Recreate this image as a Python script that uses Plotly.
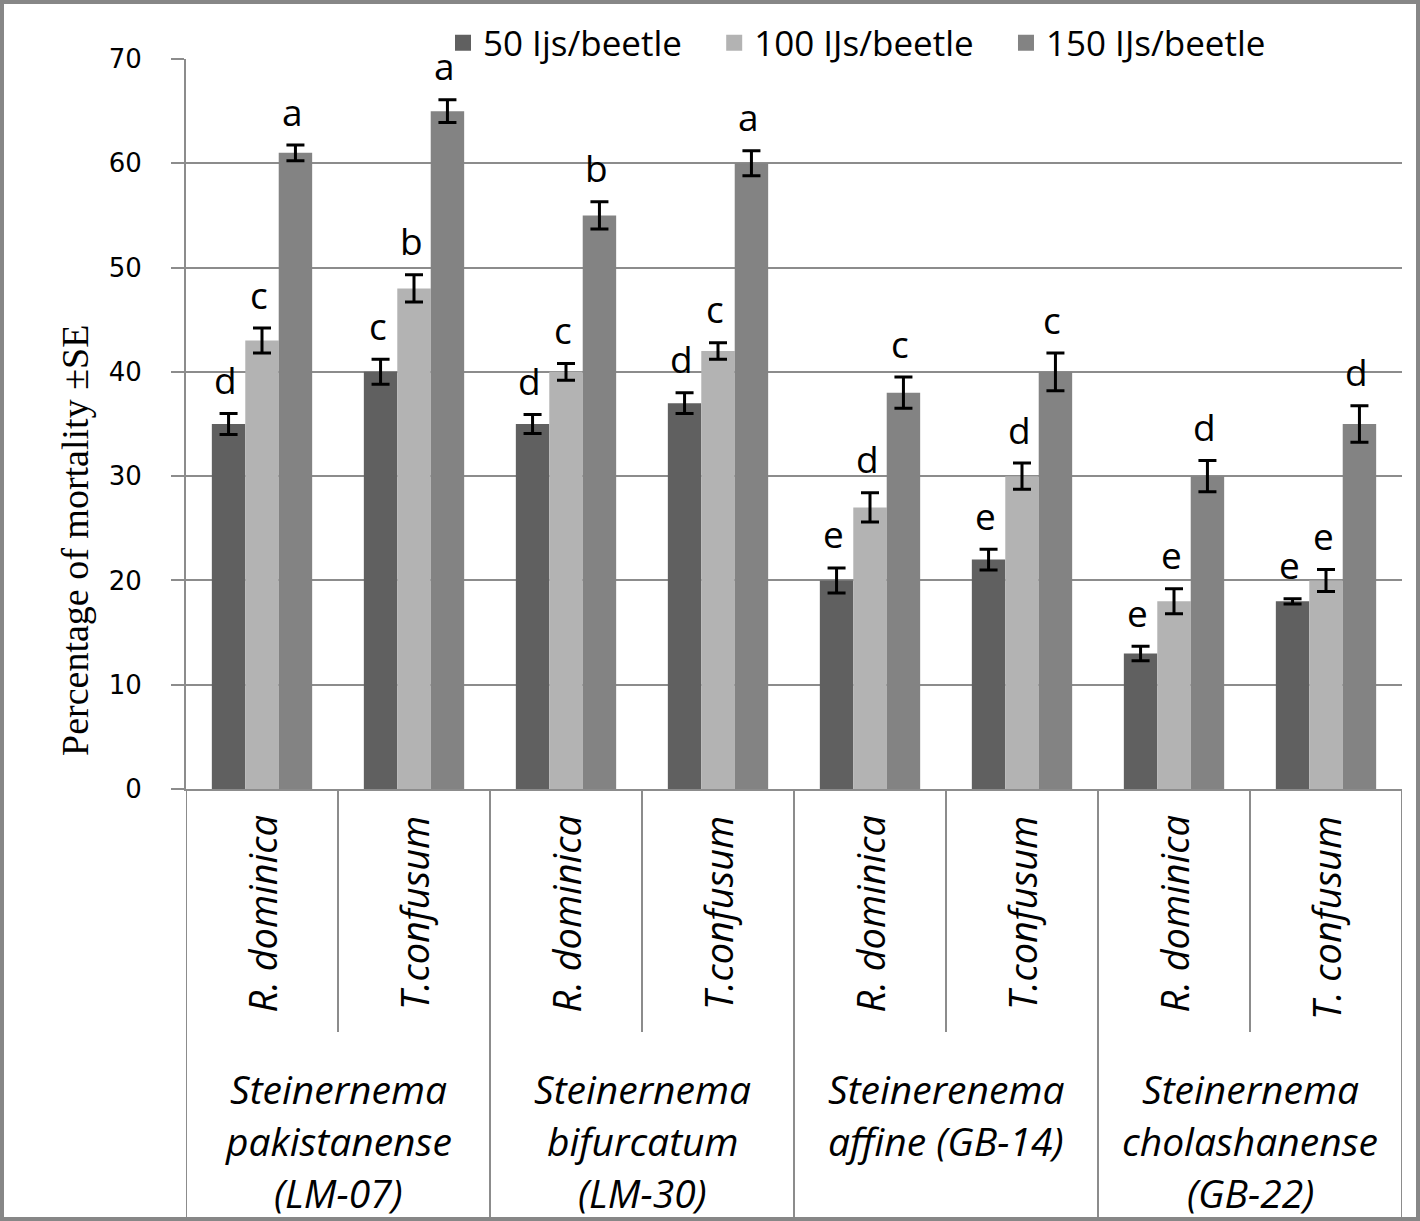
import plotly.graph_objects as go

# ---------------- data ----------------
insects = ["R. dominica", "T.confusum", "R. dominica", "T.confusum",
           "R. dominica", "T.confusum", "R. dominica", "T. confusum"]
nematodes = [["Steinernema", "pakistanense", "(LM-07)"],
             ["Steinernema", "bifurcatum", "(LM-30)"],
             ["Steinerenema", "affine (GB-14)"],
             ["Steinernema", "cholashanense", "(GB-22)"]]
series_names = ["50 Ijs/beetle", "100 IJs/beetle", "150 IJs/beetle"]
ijs50 = [35, 40, 35, 37, 20, 22, 13, 18]
ijs100 = [43, 48, 40, 42, 27, 30, 18, 20]
ijs150 = [61, 65, 55, 60, 38, 40, 30, 35]
se50 = [1.0, 1.2, 0.9, 1.0, 1.2, 1.0, 0.7, 0.25]
se100 = [1.2, 1.3, 0.8, 0.8, 1.4, 1.25, 1.2, 1.05]
se150 = [0.75, 1.1, 1.3, 1.2, 1.5, 1.8, 1.5, 1.75]
letters50 = ["d", "c", "d", "d", "e", "e", "e", "e"]
letters100 = ["c", "b", "c", "c", "d", "d", "e", "e"]
letters150 = ["a", "a", "b", "a", "c", "c", "d", "d"]
y_ticks = [0, 10, 20, 30, 40, 50, 60, 70]

# ---------------- layout constants ----------------
W, H = 1420, 1221
ML, MR, MT, MB = 186, 18, 59, 432
PW, PH = W - ML - MR, H - MT - MB
colors = ["#606060", "#b3b3b3", "#838383"]
grid = "#8c8c8c"
BARGAP = 0.34
SANS = "Open Sans, Noto Sans, sans-serif"


def px2x(px):
    return (px - ML) / PW


def px2y(py):
    return (H - MB - py) / PH


xs = list(range(len(insects)))
values = [ijs50, ijs100, ijs150]
errors = [se50, se100, se150]
letters = [letters50, letters100, letters150]

fig = go.Figure()
for k in range(3):
    fig.add_trace(go.Bar(
        x=xs, y=values[k], name=series_names[k],
        marker=dict(color=colors[k], line=dict(width=0)),
        error_y=dict(type="data", array=errors[k], visible=True,
                     color="black", thickness=3, width=9),
        showlegend=False,
    ))
    # legend proxies (larger square symbols)
    fig.add_trace(go.Scatter(
        x=[None], y=[None], mode="markers", name=series_names[k] + "\u00a0\u00a0\u00a0",
        marker=dict(symbol="square", size=20, color=colors[k]),
        showlegend=True,
    ))

annotations = []
bw = (1 - BARGAP) / 3
for k in range(3):
    for i, x in enumerate(xs):
        annotations.append(dict(
            x=x + (k - 1) * bw, y=values[k][i] + errors[k][i],
            xref="x", yref="y", text=letters[k][i], showarrow=False,
            yanchor="middle", yshift=34, xshift=-3,
            font=dict(family=SANS, size=37, color="black")))

# inner category labels (rotated)
for i, name in enumerate(insects):
    annotations.append(dict(
        x=xs[i], y=px2y(814), xref="x", yref="paper", text="<i>%s</i>" % name,
        showarrow=False, textangle=-90, xanchor="center", yanchor="top",
        font=dict(family=SANS, size=38, color="black")))

# outer group labels
line_centers = [1088, 1140, 1192]
for g, lines in enumerate(nematodes):
    for j, line in enumerate(lines):
        annotations.append(dict(
            x=2 * g + 0.5, y=px2y(line_centers[j]), xref="x", yref="paper",
            text="<i>%s</i>" % line, showarrow=False,
            xanchor="center", yanchor="middle",
            font=dict(family=SANS, size=39, color="black")))

# y axis title
annotations.append(dict(
    x=px2x(75), y=px2y(541), xref="paper", yref="paper",
    text="Percentage of mortality \u00b1SE", showarrow=False, textangle=-90,
    xanchor="center", yanchor="middle",
    font=dict(family="Liberation Serif, Times New Roman, serif", size=38, color="black")))

shapes = []
# category box separators
for b in [-0.5, 1.5, 3.5, 5.5, 7.5]:
    shapes.append(dict(type="line", xref="x", yref="paper", x0=b, x1=b,
                       y0=0, y1=px2y(1219), line=dict(color=grid, width=2)))
for b in [0.5, 2.5, 4.5, 6.5]:
    shapes.append(dict(type="line", xref="x", yref="paper", x0=b, x1=b,
                       y0=0, y1=px2y(1032), line=dict(color=grid, width=2)))
# outer frame
shapes.append(dict(type="rect", xref="paper", yref="paper",
                   x0=px2x(2), x1=px2x(1418), y0=px2y(1219), y1=px2y(2),
                   line=dict(color="#878787", width=4)))

fig.update_layout(
    width=W, height=H,
    margin=dict(l=ML, r=MR, t=MT, b=MB),
    paper_bgcolor="white", plot_bgcolor="white",
    barmode="group", bargap=BARGAP, bargroupgap=0,
    xaxis=dict(range=[-0.5, 7.5], showticklabels=False, ticks="",
               showgrid=False, zeroline=False, showline=True,
               linecolor=grid, linewidth=2, fixedrange=True),
    yaxis=dict(range=[0, 70], tickvals=y_ticks, showgrid=True,
               gridcolor=grid, gridwidth=2, zeroline=False,
               showline=True, linecolor=grid, linewidth=2,
               ticks="outside", ticklen=13, tickwidth=2, tickcolor=grid,
               ticklabelstandoff=24, fixedrange=True,
               tickfont=dict(family="DejaVu Sans, sans-serif", size=26, color="black")),
    legend=dict(orientation="h", x=px2x(443), xanchor="left",
                y=px2y(43), yanchor="middle", bgcolor="rgba(0,0,0,0)",
                font=dict(family=SANS, size=35, color="black"),
                itemclick=False, itemdoubleclick=False),
    annotations=annotations,
    shapes=shapes,
)

fig.write_html("out.html", config={"displayModeBar": False},
               post_script="document.body.style.margin='0';document.body.style.overflow='hidden';")
